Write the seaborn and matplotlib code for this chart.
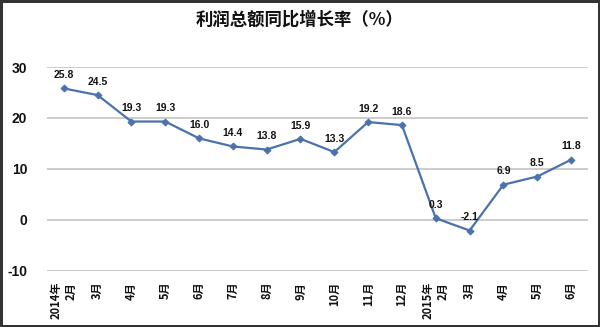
import matplotlib
matplotlib.use("Agg")
import matplotlib.pyplot as plt
import seaborn as sns
import pandas as pd

categories = ["2014年\n2月", "3月", "4月", "5月", "6月", "7月", "8月", "9月", "10月",
              "11月", "12月", "2015年\n2月", "3月", "4月", "5月", "6月"]
values = [25.8, 24.5, 19.3, 19.3, 16.0, 14.4, 13.8, 15.9, 13.3, 19.2, 18.6, 0.3, -2.1, 6.9, 8.5, 11.8]
yticks = [-10, 0, 10, 20, 30]

sns.set_theme(style="white")
plt.rcParams['font.family'] = ['Noto Sans CJK SC', 'DejaVu Sans']

df = pd.DataFrame({"x": range(len(values)), "v": values})

fig = plt.figure(figsize=(6.0, 3.27), dpi=100, linewidth=2.5, edgecolor="#333333")
ax = fig.add_axes([0.078, 0.172, 0.902, 0.623])

sns.lineplot(data=df, x="x", y="v", ax=ax, color="#4A72AE", linewidth=1.6,
             marker="D", markersize=3.5, markeredgecolor="#4A72AE")

for i, v in enumerate(values):
    ax.annotate(f"{v:.1f}", (i, v), xytext=(0, 6), textcoords="offset points",
                ha="center", va="bottom", fontsize=7.5, fontweight="bold",
                family=["Liberation Sans", "DejaVu Sans"], color="#111111")

ax.set_xlim(-0.5, len(values) - 0.5)
ax.set_ylim(-10, 30)
ax.set_yticks(yticks)
ax.set_yticklabels([str(t) for t in yticks], fontsize=10, fontweight="bold",
                   family=["Liberation Sans", "DejaVu Sans"], color="#111111")
ax.set_xticks(range(len(categories)))
ax.set_xticklabels(categories, rotation=90, fontsize=8, fontweight="bold",
                   va="top", ha="center", multialignment="right", color="#111111")
ax.tick_params(axis="both", length=0, pad=8)
ax.tick_params(axis="y", pad=14)

for y in yticks:
    ax.axhline(y, color="#C8C8C8", linewidth=1.3, zorder=0)
for s in ax.spines.values():
    s.set_visible(False)
ax.set_xlabel("")
ax.set_ylabel("")

fig.text(0.5, 0.94, "利润总额同比增长率（%）", ha="center", va="center",
         fontsize=12.5, fontweight="bold", color="#111111")

fig.savefig("out.png", dpi=100, edgecolor=fig.get_edgecolor())
